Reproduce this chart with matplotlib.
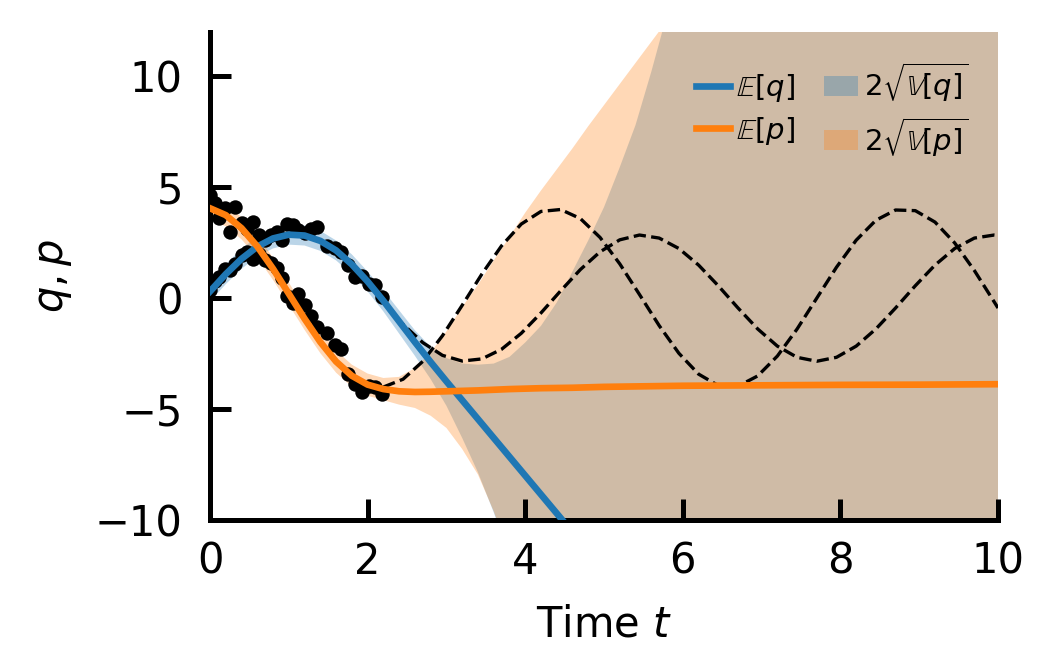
import numpy as np
import matplotlib
matplotlib.use("Agg")
import matplotlib.pyplot as plt

plt.rcParams["font.family"] = ["DejaVu Sans"]
plt.rcParams["mathtext.fontset"] = "dejavusans"

# noisy observations of the trajectory (training window)
t_obs = [0.00, 0.06, 0.12, 0.19, 0.25, 0.32, 0.40, 0.47, 0.55, 0.62, 0.70, 0.78, 0.85, 0.92, 0.98,
         1.05, 1.12, 1.20, 1.28, 1.36, 1.48, 1.58, 1.66, 1.75, 1.84, 1.93, 2.02, 2.10, 2.18]
q_obs = [0.35, 0.75, 0.95, 1.30, 1.25, 1.55, 1.95, 2.10, 1.75, 2.00, 2.60, 2.85, 3.00, 2.60, 3.35,
         3.30, 3.05, 2.95, 3.10, 3.20, 2.35, 2.25, 2.10, 1.50, 0.95, 1.00, 0.65, 0.60, 0.05]
p_obs = [4.65, 4.30, 3.60, 4.05, 3.00, 4.10, 3.40, 3.10, 3.45, 2.85, 1.70, 1.60, 1.35, 0.90, 0.10,
         -0.20, 0.20, -0.30, -0.80, -1.30, -1.55, -2.10, -2.30, -3.40, -3.85, -4.25, -3.95, -4.00, -4.30]

# true trajectory after the training window (dashed)
t_true = [2.20, 2.45, 2.70, 2.95, 3.20, 3.45, 3.70, 3.95, 4.20, 4.45, 4.70, 4.95, 5.20, 5.45, 5.70,
          5.95, 6.20, 6.45, 6.70, 6.95, 7.20, 7.45, 7.70, 7.95, 8.20, 8.45, 8.70, 8.95, 9.20, 9.45,
          9.70, 9.95, 10.0]
q_true = [-0.215, -1.184, -2.005, -2.580, -2.836, -2.740, -2.305, -1.585, -0.669, 0.329, 1.287,
          2.087, 2.627, 2.843, 2.706, 2.236, 1.489, 0.556, -0.443, -1.389, -2.163, -2.669, -2.845,
          -2.668, -2.164, -1.390, -0.444, 0.556, 1.488, 2.235, 2.706, 2.843, 2.827]
p_true = [-4.008, -3.655, -2.852, -1.695, -0.325, 1.083, 2.357, 3.338, 3.907, 3.993, 3.585, 2.733,
          1.544, 0.163, -1.239, -2.486, -3.425, -3.942, -3.971, -3.508, -2.611, -1.393, -0.001,
          1.391, 2.610, 3.508, 3.971, 3.942, 3.427, 2.487, 1.242, -0.162, -0.446]

# model prediction: mean and +/- 2 std edges
t_pred = [0.0, 0.2, 0.4, 0.6, 0.8, 1.0, 1.2, 1.4, 1.6, 1.8, 2.0, 2.2, 2.4, 2.6, 2.8, 3.0, 3.2, 3.4,
          3.6, 3.8, 4.0, 4.2, 4.4, 4.6, 4.8, 5.0, 5.2, 5.4, 5.6, 5.8, 6.0, 7.0, 8.0, 9.0, 10.0]
q_mean = [0.30, 1.08, 1.77, 2.32, 2.69, 2.86, 2.82, 2.58, 2.15, 1.52, 0.75, -0.12, -1.05, -1.98,
          -2.88, -3.75, -4.60, -5.45, -6.30, -7.15, -8.00, -8.85, -9.70, -10.55, -11.40, -12.25,
          -13.10, -13.95, -14.80, -15.65, -16.50, -20.7, -24.9, -29.1, -33.3]
q_hi = [0.75, 1.53, 2.22, 2.77, 3.14, 3.31, 3.27, 3.03, 2.60, 1.97, 1.20, 0.35, -0.55, -1.45,
        -2.20, -2.70, -2.95, -3.00, -2.95, -2.65, -2.00, -1.25, -0.20, 1.20, 2.60, 4.10, 5.90,
        7.80, 10.2, 12.8, 15.5, 30.0, 45.0, 60.0, 75.0]
q_lo = [-0.15, 0.63, 1.32, 1.87, 2.24, 2.41, 2.37, 2.13, 1.70, 1.07, 0.30, -0.60, -1.60, -2.60,
        -3.65, -4.85, -6.30, -7.85, -9.65, -11.6, -13.7, -16.0, -18.5, -21.0, -24.0, -28.0, -32.0,
        -36.0, -40.0, -44.0, -48.0, -70.0, -95.0, -120.0, -140.0]
p_mean = [4.05, 3.74, 3.15, 2.33, 1.32, 0.20, -0.93, -1.98, -2.86, -3.50, -3.90, -4.10, -4.20,
          -4.23, -4.22, -4.20, -4.18, -4.16, -4.13, -4.10, -4.08, -4.06, -4.05, -4.04, -4.02, -4.00,
          -3.99, -3.98, -3.97, -3.96, -3.95, -3.93, -3.91, -3.90, -3.88]
p_hi = [4.55, 4.24, 3.65, 2.83, 1.82, 0.70, -0.43, -1.48, -2.36, -3.00, -3.40, -3.60, -3.55,
        -3.15, -2.45, -1.50, -0.40, 0.60, 1.70, 2.75, 3.85, 4.85, 5.80, 6.75, 7.75, 8.70, 9.65,
        10.6, 11.55, 12.5, 13.5, 20.0, 28.0, 38.0, 50.0]
p_lo = [3.55, 3.24, 2.65, 1.83, 0.82, -0.30, -1.43, -2.48, -3.36, -4.00, -4.40, -4.60, -4.80,
        -4.95, -5.30, -5.85, -6.80, -7.95, -9.60, -11.5, -13.5, -16.0, -18.5, -21.0, -24.0, -27.0,
        -30.0, -33.0, -37.0, -41.0, -45.0, -65.0, -85.0, -105.0, -125.0]

blue = "#1f77b4"
orange = "#ff7f0e"

fig = plt.figure(figsize=(3.5, 6.5 / 3), dpi=300)
ax = fig.add_axes([0.2, 0.2, 0.7505, 0.751])

fq = ax.fill_between(t_pred, q_lo, q_hi, color=blue, alpha=0.3, lw=0, zorder=1)
fp = ax.fill_between(t_pred, p_lo, p_hi, color=orange, alpha=0.3, lw=0, zorder=1)
ax.scatter(t_obs, q_obs, s=12, color="k", lw=0, zorder=2)
ax.scatter(t_obs, p_obs, s=12, color="k", lw=0, zorder=2)
ax.plot(t_true, q_true, "k--", lw=0.8, zorder=3)
ax.plot(t_true, p_true, "k--", lw=0.8, zorder=3)
lq, = ax.plot(t_pred, q_mean, color=blue, lw=1.6, zorder=4)
lp, = ax.plot(t_pred, p_mean, color=orange, lw=1.6, zorder=4)

ax.set_xlim(0, 10)
ax.set_ylim(-10, 12)
ax.set_yticks([-10, -5, 0, 5, 10])
ax.set_xticks([0, 2, 4, 6, 8, 10])
for s in ["top", "right"]:
    ax.spines[s].set_visible(False)
for s in ["left", "bottom"]:
    ax.spines[s].set_linewidth(1.2)
ax.tick_params(axis="both", direction="in", length=5, width=1.2, labelsize=10)
ax.tick_params(axis="x", pad=5)
ax.tick_params(axis="y", pad=6.5)
ax.set_xlabel("Time $t$", fontsize=10, labelpad=5)
ax.set_ylabel("$q, p$", fontsize=10, labelpad=5)

ax.legend([lq, lp, fq, fp],
          [r"$\mathbb{E}[q]$", r"$\mathbb{E}[p]$",
           r"$2\sqrt{\mathbb{V}[q]}$", r"$2\sqrt{\mathbb{V}[p]}$"],
          ncol=2, frameon=False, fontsize=7, loc="upper right",
          handlelength=1.15, handletextpad=0.2, columnspacing=1.0,
          labelspacing=0.35, bbox_to_anchor=(0.995, 0.995))

fig.savefig("out.png", dpi=300)
